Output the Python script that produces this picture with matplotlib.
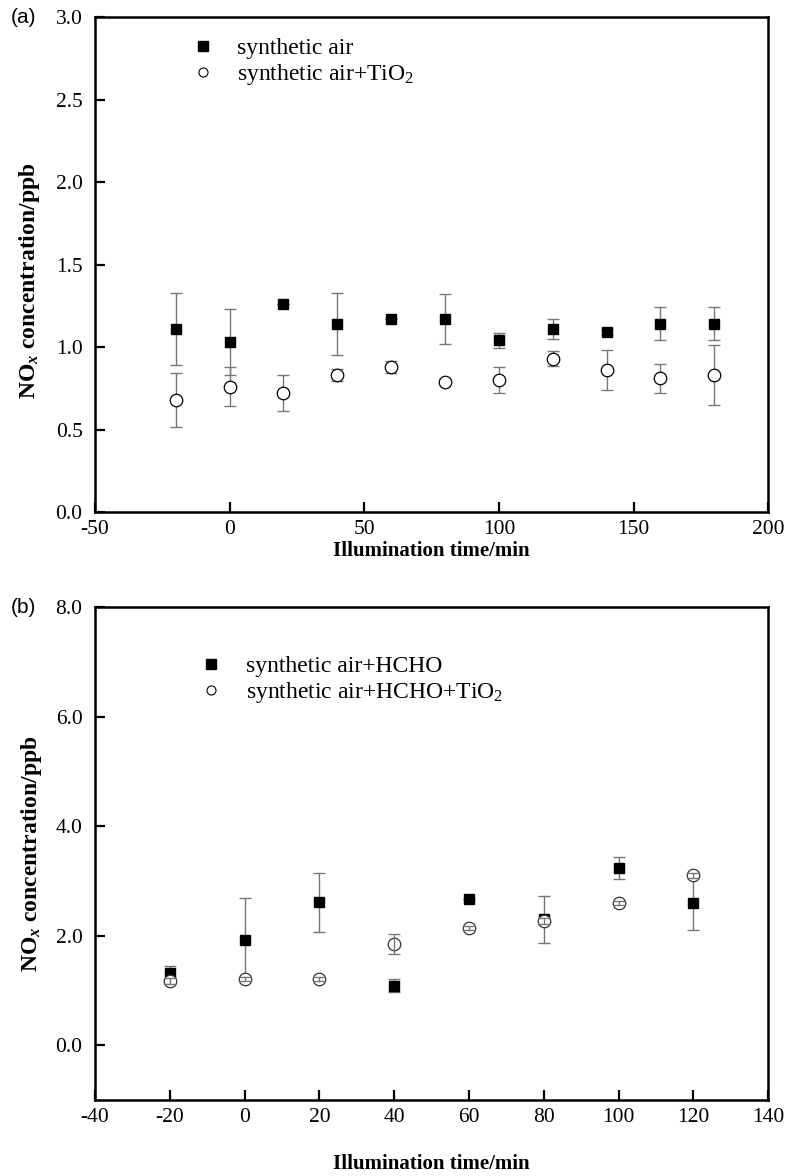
import matplotlib.pyplot as plt
from matplotlib.lines import Line2D

plt.rcParams['font.family'] = 'Liberation Serif'
plt.rcParams['mathtext.fontset'] = 'custom'
plt.rcParams['mathtext.rm'] = 'Liberation Serif'
plt.rcParams['mathtext.it'] = 'Liberation Serif:italic:bold'
plt.rcParams['axes.unicode_minus'] = False

# (a) datos
t_a = [-20, 0, 20, 40, 60, 80, 100, 120, 140, 160, 180]
air = [1.11, 1.03, 1.26, 1.14, 1.17, 1.17, 1.04, 1.11, 1.09, 1.14, 1.14]
air_err = [0.22, 0.20, 0.0, 0.19, 0.0, 0.15, 0.045, 0.06, 0.02, 0.10, 0.10]
air_tio2 = [0.68, 0.76, 0.72, 0.83, 0.88, 0.79, 0.80, 0.93, 0.86, 0.81, 0.83]
air_tio2_err = [0.165, 0.12, 0.11, 0.037, 0.035, 0.015, 0.077, 0.043, 0.12, 0.09, 0.18]

# (b) datos
t_b = [-20, 0, 20, 40, 60, 80, 100, 120]
hcho = [1.32, 1.93, 2.61, 1.09, 2.67, 2.30, 3.24, 2.60]
hcho_err = [0.13, 0.75, 0.54, 0.12, 0.0, 0.43, 0.20, 0.50]
hcho_tio2 = [1.17, 1.21, 1.21, 1.85, 2.14, 2.27, 2.60, 3.10]
hcho_tio2_err = [0.05, 0.04, 0.04, 0.185, 0.04, 0.05, 0.04, 0.05]

fig = plt.figure(figsize=(7.9, 11.76), dpi=100)
ax1 = fig.add_axes([0.1203, 0.5646, 0.852, 0.4209])
ax2 = fig.add_axes([0.1203, 0.0646, 0.852, 0.4192])

eb = dict(ecolor='#777777', elinewidth=1.0, capsize=4, capthick=1.0)

# panel a
ax1.errorbar(t_a, air, yerr=air_err, fmt='none', zorder=2, **eb)
ax1.plot(t_a, air, 's', color='black', markersize=7.5, zorder=4)
ax1.errorbar(t_a, air_tio2, yerr=air_tio2_err, fmt='none', zorder=2, **eb)
ax1.plot(t_a, air_tio2, 'o', mfc='white', mec='black', mew=0.9, markersize=9, zorder=3)
ax1.set_xlim(-50, 200)
ax1.set_ylim(0, 3.0)
ax1.set_xticks([-50, 0, 50, 100, 150, 200])
ax1.set_yticks([0, 0.5, 1.0, 1.5, 2.0, 2.5, 3.0])
ax1.set_yticklabels(['0.0', '0.5', '1.0', '1.5', '2.0', '2.5', '3.0'])

# panel b
ax2.errorbar(t_b, hcho, yerr=hcho_err, fmt='none', zorder=2, **eb)
ax2.plot(t_b, hcho, 's', color='black', markersize=7.5, zorder=3)
ax2.plot(t_b, hcho_tio2, 'o', mfc='white', mec='#333333', mew=0.9, markersize=9, zorder=4)
ax2.errorbar(t_b, hcho_tio2, yerr=hcho_tio2_err, fmt='none', zorder=5, **eb)
ax2.set_xlim(-40, 140)
ax2.set_ylim(-1, 8)
ax2.set_xticks([-40, -20, 0, 20, 40, 60, 80, 100, 120, 140])
ax2.set_yticks([0, 2, 4, 6, 8])
ax2.set_yticklabels(['0.0', '2.0', '4.0', '6.0', '8.0'])

for ax in (ax1, ax2):
    for s in ax.spines.values():
        s.set_linewidth(1.8)
    ax.tick_params(direction='in', length=7, width=1.6, labelsize=15.5,
                   top=False, right=False)
    ax.tick_params(axis='y', pad=9)
    ax.tick_params(axis='x', pad=6)
    ax.set_ylabel(r'NO$_x$ concentration/ppb', fontsize=17, fontweight='bold', labelpad=8)

ax1.set_xlabel('Illumination time/min', fontsize=15, fontweight='bold', labelpad=1)
ax2.set_xlabel('Illumination time/min', fontsize=15, fontweight='bold', labelpad=19)
ax1.yaxis.set_label_coords(-0.079, 0.467)

h_sq = Line2D([], [], ls='none', marker='s', color='black', markersize=6.5)
h_ci = Line2D([], [], ls='none', marker='o', mfc='white', mec='black', mew=0.8, markersize=6.5)
ax1.legend([h_sq, h_ci], ['synthetic air', r'synthetic air+TiO$_2$'],
           loc='upper left', bbox_to_anchor=(0.113, 1.001), frameon=False,
           fontsize=17, handlelength=0.9, handletextpad=1.0, labelspacing=0.12)
ax2.legend([h_sq, h_ci], ['synthetic air+HCHO', r'synthetic air+HCHO+TiO$_2$'],
           loc='upper left', bbox_to_anchor=(0.1255, 0.944), frameon=False,
           fontsize=17, handlelength=0.9, handletextpad=1.0, labelspacing=0.12)

fig.text(0.013, 0.985, '(a)', fontsize=15, family='Liberation Sans', va='center')
fig.text(0.013, 0.483, '(b)', fontsize=15, family='Liberation Sans', va='center')

fig.savefig('out.png', dpi=100)
